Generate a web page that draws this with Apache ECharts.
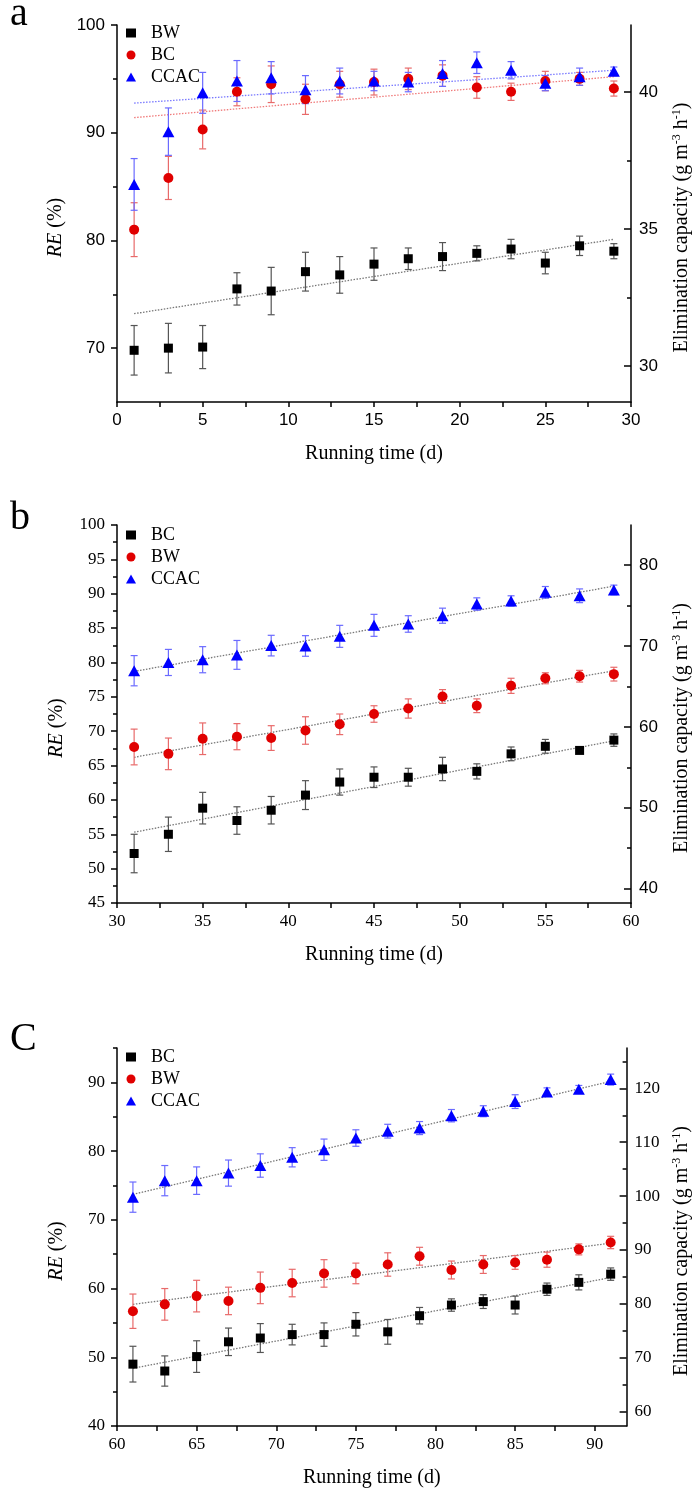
<!DOCTYPE html>
<html>
<head>
<meta charset="utf-8">
<script src="https://cdn.jsdelivr.net/npm/echarts@6/dist/echarts.min.js"></script>
<style>html,body{margin:0;padding:0;background:#fff}#c{width:700px;height:1494px}</style>
</head>
<body>
<div id="c"></div>
<script>
// ---------- Panel a (days 1-29) ----------
const xA = [1,3,5,7,9,11,13,15,17,19,21,23,25,27,29];
const a_BW = [69.8,70.0,70.1,75.5,75.3,77.1,76.8,77.8,78.3,78.5,78.8,79.2,77.9,79.5,79.0];
const a_BW_err = [2.3,2.3,2.0,1.5,2.2,1.8,1.7,1.5,1.0,1.3,0.7,0.9,1.0,0.9,0.7];
const a_BC = [81.0,85.8,90.3,93.8,94.5,93.1,94.5,94.7,95.0,95.3,94.2,93.8,94.8,95.0,94.1];
const a_BC_err = [2.5,2.0,1.8,1.3,1.7,1.4,1.2,1.2,1.0,1.0,1.0,0.8,0.9,0.6,0.7];
const a_CC = [85.2,90.1,93.7,94.8,95.1,94.0,94.8,94.8,94.7,95.5,96.5,95.8,94.6,95.2,95.7];
const a_CC_err = [2.4,2.2,1.9,1.9,1.5,1.3,1.2,0.9,0.9,1.2,1.0,0.8,0.7,0.8,0.4];
const a_trendX = [1,29];
const a_BW_trend = [73.2,80.1];
const a_BC_trend = [91.4,95.2];
const a_CC_trend = [92.75,95.8];
const a_xLabels = [0,5,10,15,20,25,30];
const a_xTicks = [0,2.5,5,7.5,10,12.5,15,17.5,20,22.5,25,27.5,30];
const a_yLabels = [70,80,90,100];
const a_yMinor = [75,85,95];
const a_rLabels = [30,35,40];
const a_rMinor = [32.5,37.5];

// ---------- Panel b (days 31-59) ----------
const xB = [31,33,35,37,39,41,43,45,47,49,51,53,55,57,59];
const b_BC = [52.2,55.0,58.8,57.0,58.5,60.7,62.6,63.3,63.3,64.5,64.15,66.7,67.8,67.2,68.7];
const b_BC_err = [2.8,2.5,2.3,2.0,2.0,2.1,1.9,1.5,1.3,1.7,1.1,1.0,1.0,0.4,0.9];
const b_BW = [67.7,66.7,68.9,69.2,69.0,70.1,71.0,72.5,73.3,75.05,73.7,76.6,77.7,78.0,78.3];
const b_BW_err = [2.6,2.3,2.3,1.9,1.8,2.0,1.5,1.2,1.4,1.0,1.0,1.1,0.8,0.85,1.0];
const b_CC = [78.8,80.0,80.4,81.1,82.45,82.4,83.8,85.4,85.6,86.8,88.5,88.95,90.2,89.7,90.55];
const b_CC_err = [2.2,1.9,1.9,2.1,1.5,1.5,1.6,1.6,1.2,1.1,0.9,0.75,0.85,1.0,0.7];
const b_trendX = [31,59];
const b_BC_trend = [55.3,68.6];
const b_BW_trend = [66.2,78.8];
const b_CC_trend = [78.7,91.1];
const b_xLabels = [30,35,40,45,50,55,60];
const b_xTicks = [30,32.5,35,37.5,40,42.5,45,47.5,50,52.5,55,57.5,60];
const b_yLabels = [45,50,55,60,65,70,75,80,85,90,95,100];
const b_yMinor = [47.5,52.5,57.5,62.5,67.5,72.5,77.5,82.5,87.5,92.5,97.5];
const b_rLabels = [40,50,60,70,80];
const b_rMinor = [45,55,65,75];

// ---------- Panel c (days 61-91) ----------
const xC = [61,63,65,67,69,71,73,75,77,79,81,83,85,87,89,91];
const c_BC = [49.0,48.0,50.1,52.25,52.8,53.3,53.3,54.8,53.7,56.05,57.6,58.1,57.6,59.9,60.9,62.1];
const c_BC_err = [2.6,2.2,2.3,2.0,2.1,1.5,1.7,1.7,1.8,1.2,0.9,1.0,1.3,0.9,1.1,0.9];
const c_BW = [56.7,57.7,58.9,58.2,60.1,60.8,62.2,62.2,63.5,64.7,62.7,63.5,63.8,64.2,65.7,66.7];
const c_BW_err = [2.5,2.3,2.3,2.0,2.3,2.0,2.0,1.5,1.7,1.3,1.3,1.3,1.0,1.1,0.8,0.9];
const c_CC = [73.3,75.7,75.7,76.8,77.9,79.1,80.2,81.9,82.9,83.35,85.15,85.8,87.2,88.6,89.0,90.4];
const c_CC_err = [2.2,2.2,2.0,1.9,1.7,1.4,1.55,1.2,1.0,0.95,0.9,0.8,1.0,0.6,0.55,0.8];
const c_trendX = [61,91];
const c_BC_trend = [48.4,61.6];
const c_BW_trend = [57.7,66.6];
const c_CC_trend = [73.7,90.15];
const c_xLabels = [60,65,70,75,80,85,90];
const c_xTicks = [60,62.5,65,67.5,70,72.5,75,77.5,80,82.5,85,87.5,90];
const c_yLabels = [40,50,60,70,80,90];
const c_yMinor = [45,55,65,75,85,95];
const c_rLabels = [60,70,80,90,100,110,120];
const c_rMinor = [65,75,85,95,105,115,125];

// ---------- build ----------
const SANS = '"Liberation Sans", Arial, sans-serif';
const SERIF = '"Liberation Serif", "Times New Roman", serif';
const BLACK = '#000000', RED = '#e00000', BLUE = '#0000ff';
const ERR = {k:'#555555', r:'#e86a6a', b:'#6b6bff'};

const panels = [
  {id:'a', top:25, height:377, letter:'a', letterY:14,
   x:[0,30], xLab:a_xLabels, xTick:a_xTicks, xFont:SANS,
   y:[65,100], yLab:a_yLabels, yMinor:a_yMinor, yFont:SANS,
   r:[28.69,42.45], rLab:a_rLabels, rMinor:a_rMinor, rFont:SANS,
   xs:xA, tx:a_trendX,
   series:[
     {name:'BW', sym:'rect', color:BLACK, err:ERR.k, v:a_BW, e:a_BW_err, t:a_BW_trend, tc:'#777777'},
     {name:'BC', sym:'circle', color:RED, err:ERR.r, v:a_BC, e:a_BC_err, t:a_BC_trend, tc:'#f07a7a'},
     {name:'CCAC', sym:'triangle', color:BLUE, err:ERR.b, v:a_CC, e:a_CC_err, t:a_CC_trend, tc:'#7a7aff'}
   ], legendTop:19},
  {id:'b', top:525, height:378, letter:'b', letterY:518,
   x:[30,60], xLab:b_xLabels, xTick:b_xTicks, xFont:SERIF,
   y:[45,100], yLab:b_yLabels, yMinor:b_yMinor, yFont:SERIF,
   r:[38.23,84.94], rLab:b_rLabels, rMinor:b_rMinor, rFont:SANS,
   xs:xB, tx:b_trendX,
   series:[
     {name:'BC', sym:'rect', color:BLACK, err:ERR.k, v:b_BC, e:b_BC_err, t:b_BC_trend, tc:'#777777'},
     {name:'BW', sym:'circle', color:RED, err:ERR.r, v:b_BW, e:b_BW_err, t:b_BW_trend, tc:'#777777'},
     {name:'CCAC', sym:'triangle', color:BLUE, err:ERR.b, v:b_CC, e:b_CC_err, t:b_CC_trend, tc:'#777777'}
   ], legendTop:521},
  {id:'c', top:1048, height:378, letter:'C', letterY:1039,
   x:[60,92], xLab:c_xLabels, xTick:c_xTicks, xFont:SERIF,
   y:[40,95], yLab:c_yLabels, yMinor:c_yMinor, yFont:SERIF,
   r:[57.35,127.48], rLab:c_rLabels, rMinor:c_rMinor, rFont:SERIF,
   xs:xC, tx:c_trendX,
   series:[
     {name:'BC', sym:'rect', color:BLACK, err:ERR.k, v:c_BC, e:c_BC_err, t:c_BC_trend, tc:'#777777'},
     {name:'BW', sym:'circle', color:RED, err:ERR.r, v:c_BW, e:c_BW_err, t:c_BW_trend, tc:'#777777'},
     {name:'CCAC', sym:'triangle', color:BLUE, err:ERR.b, v:c_CC, e:c_CC_err, t:c_CC_trend, tc:'#777777'}
   ], legendTop:1043}
];

const SYM_SIZE = {rect:9, circle:10, triangle:[12,11]};

const grid = [], xAxis = [], yAxis = [], series = [], legend = [], graphic = [];
const axisLineStyle = {color:'#000', width:1.5};

panels.forEach((p, i) => {
  grid.push({left:117, right:64.5, top:p.top, height:p.height, containLabel:false});
  xAxis.push({
    type:'value', gridIndex:i, min:p.x[0], max:p.x[1],
    axisLine:{show:true, onZero:false, lineStyle:axisLineStyle},
    axisTick:{show:true, inside:false, length:5, customValues:p.xTick, lineStyle:{color:'#000', width:1.5}},
    axisLabel:{show:true, customValues:p.xLab, margin:10, color:'#000', fontFamily:p.xFont, fontSize:17},
    splitLine:{show:false},
    name:'Running time (d)', nameLocation:'middle', nameGap:42,
    nameTextStyle:{fontFamily:SERIF, fontSize:20, color:'#000'}
  });
  const base = yAxis.length;
  yAxis.push({
    type:'value', gridIndex:i, position:'left', min:p.y[0], max:p.y[1],
    axisLine:{show:true, onZero:false, lineStyle:axisLineStyle},
    axisTick:{show:true, inside:false, length:6, customValues:p.yLab, lineStyle:{color:'#000', width:1.5}},
    axisLabel:{show:true, customValues:p.yLab, margin:12, color:'#000', fontFamily:p.yFont, fontSize:17},
    splitLine:{show:false},
    name:'{i|RE} (%)', nameLocation:'middle', nameGap:50, nameRotate:90,
    nameTextStyle:{fontFamily:SERIF, fontSize:20, color:'#000', padding:[0,28,0,0],
      rich:{i:{fontFamily:SERIF, fontSize:20, fontStyle:'italic', color:'#000'}}}
  });
  yAxis.push({
    type:'value', gridIndex:i, position:'left', min:p.y[0], max:p.y[1],
    axisLine:{show:false},
    axisTick:{show:true, inside:false, length:4, customValues:p.yMinor, lineStyle:{color:'#000', width:1.5}},
    axisLabel:{show:false}, splitLine:{show:false}
  });
  yAxis.push({
    type:'value', gridIndex:i, position:'right', min:p.r[0], max:p.r[1],
    axisLine:{show:true, onZero:false, lineStyle:axisLineStyle},
    axisTick:{show:true, inside:true, length:7, customValues:p.rLab, lineStyle:{color:'#000', width:1.5}},
    axisLabel:{show:true, customValues:p.rLab, margin:8, color:'#000', fontFamily:p.rFont, fontSize:17},
    splitLine:{show:false},
    name:'{n|Elimination capacity (g m}{s|-3}{n| h}{s|-1}{n|)}', nameLocation:'middle', nameGap:40, nameRotate:90,
    nameTextStyle:{fontFamily:SERIF, fontSize:20, color:'#000', padding:[0,28,0,0],
      rich:{n:{fontFamily:SERIF, fontSize:20, color:'#000', lineHeight:22},
            s:{fontFamily:SERIF, fontSize:12, color:'#000', verticalAlign:'top', lineHeight:22}}}
  });
  yAxis.push({
    type:'value', gridIndex:i, position:'right', min:p.r[0], max:p.r[1],
    axisLine:{show:false},
    axisTick:{show:true, inside:true, length:4, customValues:p.rMinor, lineStyle:{color:'#000', width:1.5}},
    axisLabel:{show:false}, splitLine:{show:false}
  });

  const legendNames = [];
  p.series.forEach(s => {
    const sname = p.id + ':' + s.name;
    legendNames.push(sname);
    series.push({
      type:'line', name:p.id + ':trend:' + s.name, xAxisIndex:i, yAxisIndex:base,
      data:p.tx.map((xv, k) => [xv, s.t[k]]),
      showSymbol:false, symbol:'none', silent:true, z:1,
      lineStyle:{color:s.tc, width:1.3, type:[1.5,1.5]}
    });
    series.push({
      type:'custom', name:p.id + ':err:' + s.name, xAxisIndex:i, yAxisIndex:base, z:2, silent:true,
      data:p.xs.map((xv, k) => [xv, s.v[k], s.e[k]]),
      encode:{x:0, y:1},
      renderItem:(params, api) => {
        const xv = api.value(0), yv = api.value(1), ev = api.value(2);
        const tp = api.coord([xv, yv + ev]), bt = api.coord([xv, yv - ev]);
        const w = 3.5;
        const st = {stroke:s.err, lineWidth:1.2};
        return {type:'group', children:[
          {type:'line', shape:{x1:tp[0], y1:tp[1], x2:bt[0], y2:bt[1]}, style:st},
          {type:'line', shape:{x1:tp[0]-w, y1:tp[1], x2:tp[0]+w, y2:tp[1]}, style:st},
          {type:'line', shape:{x1:bt[0]-w, y1:bt[1], x2:bt[0]+w, y2:bt[1]}, style:st}
        ]};
      }
    });
    series.push({
      type:'scatter', name:sname, xAxisIndex:i, yAxisIndex:base, z:3,
      data:p.xs.map((xv, k) => [xv, s.v[k]]),
      symbol:s.sym, symbolSize:SYM_SIZE[s.sym],
      itemStyle:{color:s.color, opacity:1}
    });
  });
  legend.push({
    data:legendNames, orient:'vertical', left:121, top:p.legendTop,
    itemWidth:10, itemHeight:9, itemGap:4,
    formatter:(n) => n.split(':')[1],
    textStyle:{fontFamily:SERIF, fontSize:18, color:'#000', padding:[0,0,0,10]},
    selectedMode:false
  });
  graphic.push({type:'text', x:10, y:p.letterY,
    style:{text:p.letter, fontFamily:SERIF, fontSize:40, fill:'#000', verticalAlign:'middle'}});
});

const chart = echarts.init(document.getElementById('c'), null, {renderer:'canvas'});
chart.setOption({
  animation:false, backgroundColor:'#fff',
  grid, xAxis, yAxis, series, legend, graphic
});
</script>
</body>
</html>
